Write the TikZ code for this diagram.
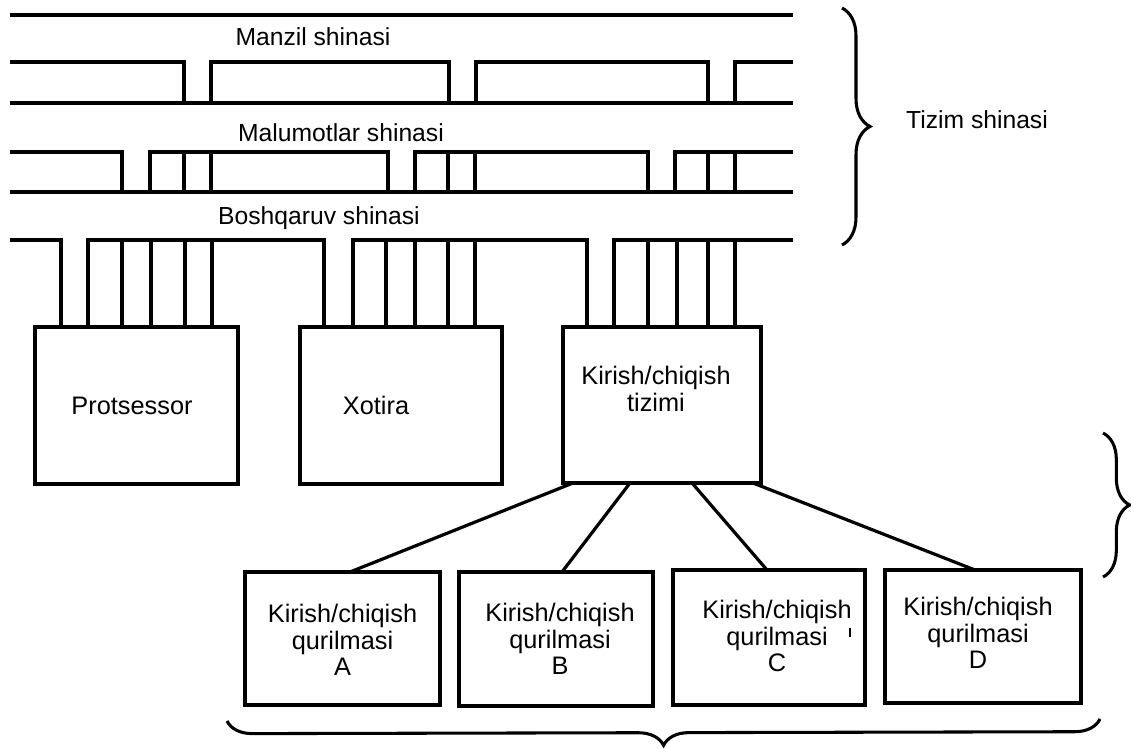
\documentclass[tikz,border=0pt]{standalone}
\usepackage{fontspec}
\setmainfont{Liberation Sans}
\usetikzlibrary{decorations.pathreplacing,calc}
\begin{document}
\begin{tikzpicture}[x=0.75pt,y=-0.75pt,
  bus/.style={line width=2.5pt},
  unit/.style={draw, line width=3.4pt, outer sep=0pt, inner sep=0pt},
  lbl/.style={font=\fontsize{18.5}{20}\selectfont, align=center, inner sep=0pt},
  boxlbl/.style={lbl, font=\fontsize{19}{20}\selectfont},
  link/.style={line width=2.4pt},
  bracket/.style={line width=2.3pt, decorate}]
\useasboundingbox (0,0) rectangle (1131,749);

% system units
\node[unit, minimum width=152pt, minimum height=117.75pt] (P) at (136.5,405.5) {};
\node[unit, minimum width=151.5pt, minimum height=117.75pt] (X) at (401,405.5) {};
\node[unit, minimum width=148.5pt, minimum height=117pt] (K) at (662,405) {};
\node[unit, minimum width=146.25pt, minimum height=99.75pt] (A) at (342.5,638.5) {};
\node[unit, minimum width=145.5pt, minimum height=100.5pt] (B) at (556,639) {};
\node[unit, minimum width=144pt, minimum height=101.25pt] (C) at (769,637.5) {};
\node[unit, minimum width=147pt, minimum height=99.75pt] (D) at (983,636.5) {};

\node[boxlbl] (Pt) at ($(P.center)+(-4.5,0)$) {Protsessor};
\node[boxlbl] (Xt) at ($(X.center)+(-25,0)$) {Xotira};
\node[boxlbl] (Kt) at ($(K.center)+(-6,-16)$) {Kirish/chiqish\\tizimi};
\node[boxlbl] (At) at ($(A.center)+(0,1.5)$) {Kirish/chiqish\\qurilmasi\\A};
\node[boxlbl] (Bt) at ($(B.center)+(4,0)$) {Kirish/chiqish\\qurilmasi\\B};
\node[boxlbl] (Ct) at ($(C.center)+(8,-1.5)$) {Kirish/chiqish\\qurilmasi\\C};
\node[boxlbl] (Dt) at ($(D.center)+(-5,-3.5)$) {Kirish/chiqish\\qurilmasi\\D};

% bus labels
\node[lbl] (man) at (313,37) {Manzil shinasi};
\node[lbl] (mal) at (341,133) {Malumotlar shinasi};
\node[lbl] (bos) at (319,218) {Boshqaruv shinasi};
\node[lbl] (tiz) at (977,120) {Tizim shinasi};

% top rail
\draw[bus] (10,15) -- (793,15);

% address bus
\draw[bus] (10,62) -- (184,62) -- (184,103);
\draw[bus] (211,103) -- (211,62) -- (449,62) -- (449,103);
\draw[bus] (476,103) -- (476,62) -- (708,62) -- (708,103);
\draw[bus] (735,103) -- (735,62) -- (793,62);
\draw[bus] (10,103) -- (793,103);

% data bus
\draw[bus] (10,152) -- (122,152) -- (122,192);
\draw[bus] (150,192) -- (150,152) -- (388,152) -- (388,192);
\draw[bus] (415,192) -- (415,152) -- (648,152) -- (648,192);
\draw[bus] (675,192) -- (675,152) -- (793,152);
\foreach \x in {184,211,448,475,708,735}
  \draw[bus] (\x,152) -- (\x,192);
\draw[bus] (10,192) -- (793,192);

% control bus and taps into the units
\draw[bus] (10,240) -- (61,240) -- (61,240 |- P.north);
\draw[bus] (88,240 |- P.north) -- (88,240) -- (324,240) -- (324,240 |- X.north);
\draw[bus] (353,240 |- X.north) -- (353,240) -- (587,240) -- (587,240 |- K.north);
\draw[bus] (614,240 |- K.north) -- (614,240) -- (793,240);
\foreach \x in {122,151,185,212}
  \draw[bus] (\x,240) -- (\x,240 |- P.north);
\foreach \x in {386,415,448,475}
  \draw[bus] (\x,240) -- (\x,240 |- X.north);
\foreach \x in {648,677,708,735}
  \draw[bus] (\x,240) -- (\x,240 |- K.north);

% I/O system to devices
\draw[link] ($(K.south)+(-89,0)$) -- ($(A.north)+(7.5,0)$);
\draw[link] ($(K.south)+(-32,0)$) -- ($(B.north)+(6,0)$);
\draw[link] ($(K.south)+(30,0)$) -- ($(C.north)+(-2,0)$);
\draw[link] ($(K.south)+(91,0)$) -- ($(D.north)+(-8,0)$);

% small tick inside device C
\draw[line width=0.8pt] (850,628) -- (850,637);

% braces
\draw[bracket, decoration={brace, amplitude=21pt}] (842,8) -- (842,245);
\draw[bracket, decoration={brace, amplitude=20pt}] (1103,433) -- (1103,577);
\draw[bracket, decoration={brace, amplitude=19pt}] (1100,719) -- (227,721);
\end{tikzpicture}
\end{document}
